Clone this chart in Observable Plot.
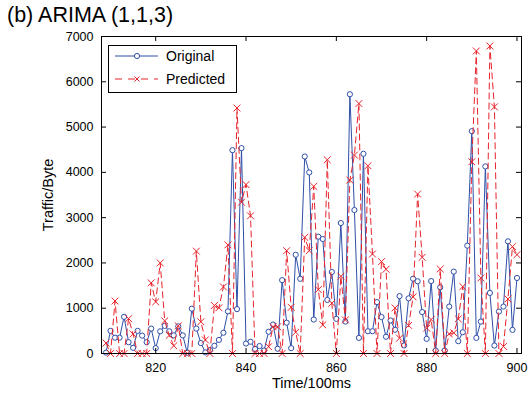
<!DOCTYPE html>
<html><head><meta charset="utf-8">
<script src="https://cdn.jsdelivr.net/npm/d3@7"></script>
<script src="https://cdn.jsdelivr.net/npm/@observablehq/plot@0.6"></script>
<style>
body{margin:0;background:#fff;font-family:"Liberation Sans",Arial,sans-serif;overflow:hidden;}
#wrap{position:relative;width:529px;height:394px;}
#title{position:absolute;left:7px;top:0;font-size:21.5px;line-height:30px;height:28px;white-space:nowrap;color:#000;}
#chart{position:absolute;left:0;top:28px;}
#legend{position:absolute;left:108px;top:45px;width:129px;height:48px;border:1px solid #000;background:#fff;box-sizing:border-box;}
#legend svg{display:block;}
</style></head><body>
<div id="wrap"><div id="title">(b) ARIMA (1,1,3)</div><div id="chart"></div><div id="legend"></div></div>
<script>
const time = [809,810,811,812,813,814,815,816,817,818,819,820,821,822,823,824,825,826,827,828,829,830,831,832,833,834,835,836,837,838,839,840,841,842,843,844,845,846,847,848,849,850,851,852,853,854,855,856,857,858,859,860,861,862,863,864,865,866,867,868,869,870,871,872,873,874,875,876,877,878,879,880,881,882,883,884,885,886,887,888,889,890,891,892,893,894,895,896,897,898,899,900];
const original = [20,500,350,350,810,250,125,500,395,250,550,118,490,610,490,400,600,400,15,990,550,230,25,75,170,300,458,930,4490,980,4535,220,260,100,165,66,480,640,105,1620,680,118,2180,1650,4351,3998,750,2580,2528,1183,1800,765,2881,705,5725,3168,345,4410,492,492,1135,805,370,730,525,1268,177,1217,1652,1595,915,323,1600,66,1463,66,1036,1808,272,470,2381,4910,345,705,4131,1338,176,926,1036,2477,522,1668];
const predicted = [230,0,1160,0,0,770,430,0,0,0,1560,1140,2000,720,400,170,610,0,0,0,2260,700,300,0,1060,1010,1470,2400,0,5420,3340,3730,3040,0,0,0,150,590,590,0,2270,1020,470,0,2565,2271,3690,1411,632,4278,1110,0,1705,742,3829,4381,5520,0,4145,2198,0,2029,1860,0,1007,338,0,620,1250,3521,2124,559,750,0,1867,0,434,456,764,1477,0,4234,6681,1668,0,6791,5446,0,154,1205,2359,2183];
const xTicks = [820,840,860,880,900];
const yTicks = [0,1000,2000,3000,4000,5000,6000,7000];
const seriesNames = ["Original","Predicted"];
const xLabel = "Time/100ms", yLabel = "Traffic/Byte";

const blue = "#2f4fa8", red = "#e8232b";
const data = time.map((t,i)=>({t, orig: original[i], pred: predicted[i]}));

const W = 529, H = 366, mL = 101, mR = 8, mT = 8, mB = 41;
const iw = W - mL - mR, ih = H - mT - mB, tk = 5;
const ff = "'Liberation Sans', Arial, sans-serif";

const chart = Plot.plot({
  width: W, height: H,
  marginLeft: mL, marginRight: mR, marginTop: mT, marginBottom: mB,
  style: {fontFamily: ff, background: "#fff", color: "#000"},
  x: {domain: [808, 901]},
  y: {domain: [0, 7000]},
  marks: [
    Plot.line(data, {x: "t", y: "orig", stroke: blue, strokeWidth: 1}),
    Plot.dot(data, {x: "t", y: "orig", r: 2.6, stroke: blue, fill: "white", strokeWidth: 1}),
    Plot.line(data, {x: "t", y: "pred", stroke: red, strokeWidth: 1, strokeDasharray: "6,4"}),
    Plot.dot(data, {x: "t", y: "pred", symbol: "times", r: 3.2, stroke: red, strokeWidth: 1}),
    Plot.tickX(xTicks, {x: d => d, stroke: "#000", insetTop: ih - tk}),
    Plot.tickX(xTicks, {x: d => d, stroke: "#000", insetBottom: ih - tk}),
    Plot.tickY(yTicks, {y: d => d, stroke: "#000", insetRight: iw - tk}),
    Plot.tickY(yTicks, {y: d => d, stroke: "#000", insetLeft: iw - tk}),
    Plot.frame({stroke: "#000"}),
    Plot.axisX(xTicks, {tickSize: 0, tickPadding: 10, fontSize: 12.5, tickFormat: d => String(d), label: null}),
    Plot.axisY(yTicks, {tickSize: 0, tickPadding: 8, fontSize: 12.5, tickFormat: d => String(d), label: null}),
    Plot.text([xLabel], {text: d => d, frameAnchor: "bottom", dy: 30, lineAnchor: "middle", textAnchor: "middle", fontSize: 14.5, fill: "#000"}),
    Plot.text([yLabel], {text: d => d, frameAnchor: "left", dx: -53, rotate: -90, lineAnchor: "middle", textAnchor: "middle", fontSize: 14.5, fill: "#000"})
  ]
});
document.getElementById("chart").appendChild(chart);

// legend
const ns = "http://www.w3.org/2000/svg";
const lg = document.createElementNS(ns, "svg");
lg.setAttribute("width", 127); lg.setAttribute("height", 46);
lg.innerHTML = `
<line x1="6" x2="49" y1="10" y2="10" stroke="${blue}" stroke-width="1"/>
<circle cx="28" cy="10" r="2.6" stroke="${blue}" fill="white" stroke-width="1"/>
<text x="57" y="15" font-size="14" font-family="${ff}">${seriesNames[0]}</text>
<line x1="6" x2="49" y1="33" y2="33" stroke="${red}" stroke-width="1" stroke-dasharray="7,6"/>
<path d="M25.5,30.5L30.5,35.5M30.5,30.5L25.5,35.5" stroke="${red}" stroke-width="1"/>
<text x="57" y="38" font-size="14" font-family="${ff}">${seriesNames[1]}</text>`;
document.getElementById("legend").appendChild(lg);
</script>
</body></html>
